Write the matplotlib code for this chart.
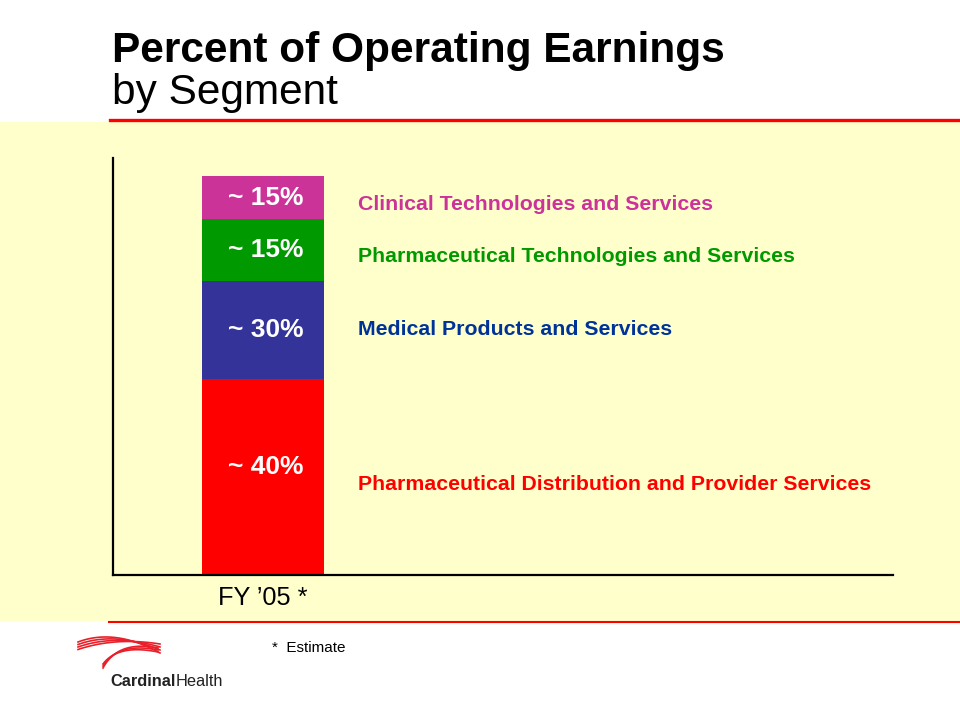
import numpy as np
import matplotlib
matplotlib.use("Agg")
import matplotlib.pyplot as plt
from matplotlib.patches import Rectangle
from matplotlib.lines import Line2D

plt.rcParams['font.family'] = ['Liberation Sans', 'DejaVu Sans']

# ---- data ----
category = ["FY \u201905 *"]
segments = ["Pharmaceutical Distribution and Provider Services",
            "Medical Products and Services",
            "Pharmaceutical Technologies and Services",
            "Clinical Technologies and Services"]
heights = [49.0, 24.6, 15.35, 10.8]          # drawn heights
pct_labels = ["~ 40%", "~ 30%", "~ 15%", "~ 15%"]
bar_colors = ["#FF0000", "#333399", "#009900", "#CC3399"]
text_colors = ["#FF0000", "#003399", "#009900", "#CC3399"]
label_y = [22.75, 61.5, 79.75, 92.75]       # positions of segment names

W, H = 960, 720
fig = plt.figure(figsize=(9.6, 7.2), dpi=100)
fig.patch.set_facecolor("white")

def fx(px):
    return px / W

def fy(py):
    return 1 - py / H

# yellow panel
fig.patches.append(Rectangle((0, fy(621)), 1, fy(122) - fy(621), transform=fig.transFigure,
                             facecolor="#FFFFCC", edgecolor="none", zorder=-5))
# red rules
fig.lines.append(Line2D([fx(110), 1], [fy(120), fy(120)], transform=fig.transFigure,
                        color="#FF0000", lw=2.4, zorder=-4))
fig.lines.append(Line2D([fx(109), 1], [fy(622), fy(622)], transform=fig.transFigure,
                        color="#FF0000", lw=1.5, zorder=-4))

# title
fig.text(fx(112), fy(51), "Percent of Operating Earnings", fontsize=30.5, fontweight="bold",
         ha="left", va="center", color="black")
fig.text(fx(112), fy(93), "by Segment", fontsize=30.5, ha="left", va="center", color="black")

# axes
ax = fig.add_axes([fx(113), fy(575), fx(893) - fx(113), fy(158) - fy(575)])
ax.set_facecolor("none")
ax.set_zorder(2)
ax.set_xlim(-0.9836, 4.131)
ax.set_ylim(0, 104.25)

bottom = 0.0
for h, c, lab in zip(heights, bar_colors, pct_labels):
    ax.bar(0, h, width=0.8, bottom=bottom, color=c, edgecolor="none", zorder=2)
    yc = bottom + h / 2
    if lab == "~ 40%":
        yc += 2.5
    ax.text(0.02, yc, lab, ha="center", va="center", color="white",
            fontsize=19, fontweight="bold", zorder=3)
    bottom += h

for name, c, yy in zip(segments, text_colors, label_y):
    ax.text(0.62, yy, name, ha="left", va="center", color=c, fontsize=15.3,
            fontweight="bold")

ax.set_xticks([0])
ax.set_xticklabels(category, fontsize=18.3)
ax.tick_params(axis="x", length=0, pad=8)
ax.set_yticks([])
for s in ["top", "right"]:
    ax.spines[s].set_visible(False)
for s in ["left", "bottom"]:
    ax.spines[s].set_color("black")
    ax.spines[s].set_linewidth(1.6)

# footnote
fig.text(fx(272), fy(648), "*  Estimate", fontsize=11, ha="left", va="center", color="black")

# logo
for i in range(4):
    t = np.linspace(0, 1, 40)
    x0, y0 = 78, 642 + i * 2.5
    x1, y1 = 160, 653 - i * 3
    xc, yc = 115, 628 + i * 3
    xs = (1 - t) ** 2 * x0 + 2 * (1 - t) * t * xc + t ** 2 * x1
    ys = (1 - t) ** 2 * y0 + 2 * (1 - t) * t * yc + t ** 2 * y1
    fig.lines.append(Line2D(fx(xs), fy(ys), transform=fig.transFigure, color="#E8202A", lw=1.2))
for i in range(3):
    t = np.linspace(0, 1, 40)
    x0, y0 = 103, 668 - i * 2
    x1, y1 = 158, 648 + i * 2
    xc, yc = 118, 640 + i * 2
    xs = (1 - t) ** 2 * x0 + 2 * (1 - t) * t * xc + t ** 2 * x1
    ys = (1 - t) ** 2 * y0 + 2 * (1 - t) * t * yc + t ** 2 * y1
    fig.lines.append(Line2D(fx(xs), fy(ys), transform=fig.transFigure, color="#E8202A", lw=1.2))
t1 = fig.text(fx(110), fy(681), "Cardinal", fontsize=11.8, fontweight="bold", color="#222222",
              ha="left", va="center")
fig.canvas.draw()
bb = t1.get_window_extent()
fig.text(bb.x1 / W, fy(681), "Health", fontsize=11.8, color="#222222", ha="left", va="center")

fig.savefig("out.png", dpi=100, facecolor="white")
